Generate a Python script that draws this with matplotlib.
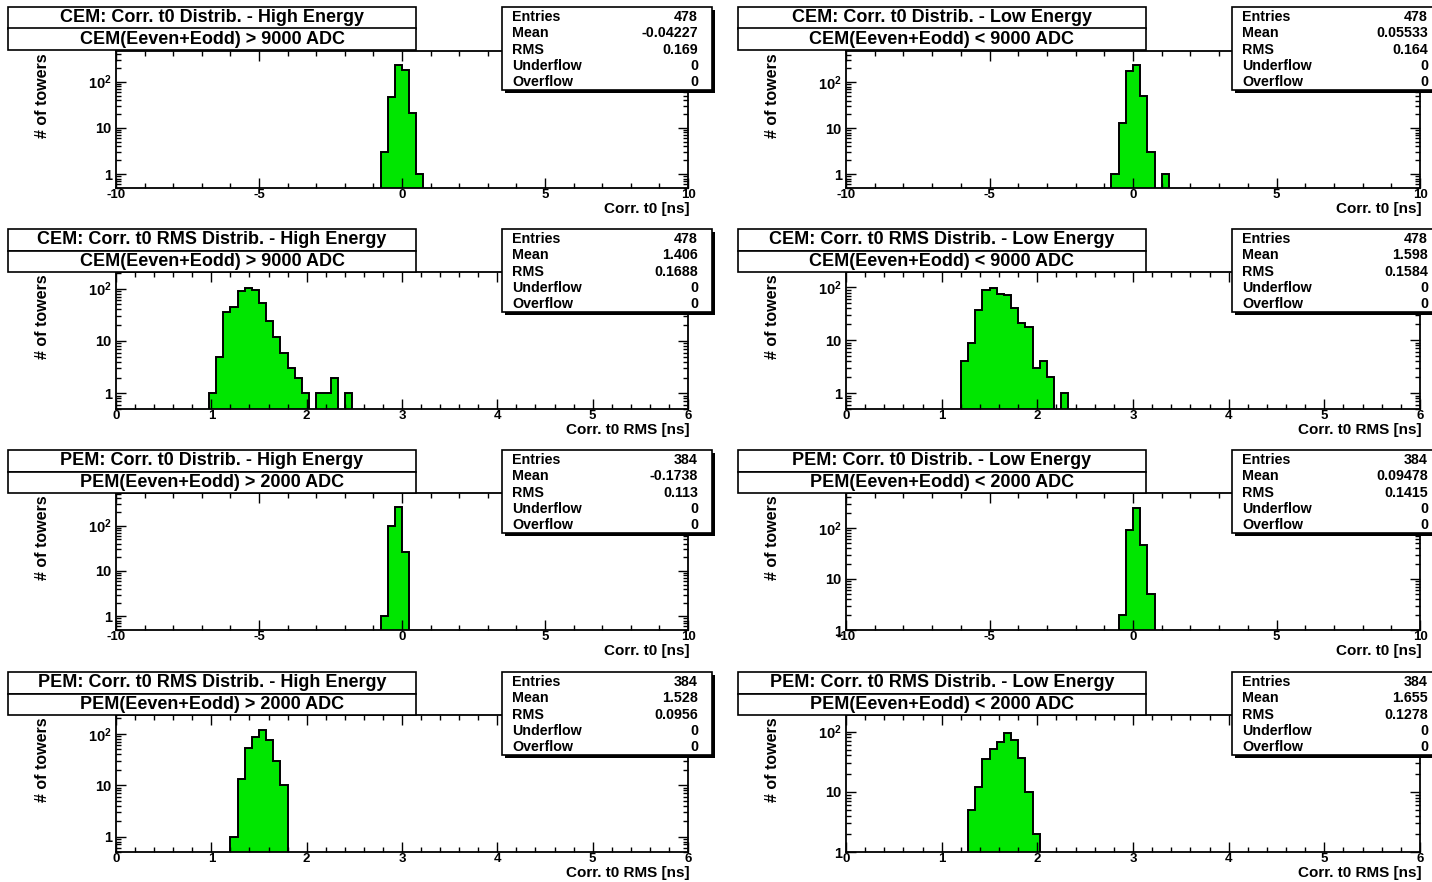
import numpy as np
import matplotlib
matplotlib.use('Agg')
import matplotlib.pyplot as plt
from matplotlib.patches import Rectangle
from matplotlib.ticker import FixedLocator, FuncFormatter, LogLocator, MultipleLocator, NullFormatter

W, H = 1432, 882

# histogram bin widths
t0_bw = 0.25
rms_bw = 0.075

# counts per panel: low edge of the first filled bin, then the counts
cem_t0_hi_lo = -0.75
cem_t0_hi = [3, 47, 230, 176, 21, 1]
cem_t0_lo_lo = -0.75
cem_t0_lo = [1, 13, 172, 239, 49, 3, 0, 1]
cem_rms_hi_lo = 0.975
cem_rms_hi = [1, 5, 36, 44, 92, 104, 94, 52, 24, 12, 6, 3, 2, 1, 0, 1, 1, 2, 0, 1]
cem_rms_lo_lo = 1.2
cem_rms_lo = [4, 9, 38, 90, 98, 76, 73, 41, 21, 18, 3, 4, 2, 0, 1]
pem_t0_hi_lo = -0.75
pem_t0_hi = [1, 97, 260, 26]
pem_t0_lo_lo = -0.5
pem_t0_lo = [2, 90, 241, 46, 5]
pem_rms_hi_lo = 1.2
pem_rms_hi = [1, 13, 52, 85, 116, 77, 30, 10]
pem_rms_lo_lo = 1.275
pem_rms_lo = [5, 12, 35, 52, 67, 94, 71, 36, 10, 2]

titles = ["CEM: Corr. t0 Distrib. - High Energy", "CEM: Corr. t0 Distrib. - Low Energy",
          "CEM: Corr. t0 RMS Distrib. - High Energy", "CEM: Corr. t0 RMS Distrib. - Low Energy",
          "PEM: Corr. t0 Distrib. - High Energy", "PEM: Corr. t0 Distrib. - Low Energy",
          "PEM: Corr. t0 RMS Distrib. - High Energy", "PEM: Corr. t0 RMS Distrib. - Low Energy"]
subtitles = ["CEM(Eeven+Eodd) > 9000 ADC", "CEM(Eeven+Eodd) < 9000 ADC"] * 2 + \
            ["PEM(Eeven+Eodd) > 2000 ADC", "PEM(Eeven+Eodd) < 2000 ADC"] * 2
xtitles = ["Corr. t0 [ns]"] * 2 + ["Corr. t0 RMS [ns]"] * 2 + ["Corr. t0 [ns]"] * 2 + ["Corr. t0 RMS [ns]"] * 2

stat_names = ["Entries", "Mean", "RMS", "Underflow", "Overflow"]
entries = ["478", "478", "478", "478", "384", "384", "384", "384"]
means = ["-0.04227", "0.05533", "1.406", "1.598", "-0.1738", "0.09478", "1.528", "1.655"]
rmss = ["0.169", "0.164", "0.1688", "0.1584", "0.113", "0.1415", "0.0956", "0.1278"]

hists = [(cem_t0_hi_lo, cem_t0_hi, t0_bw), (cem_t0_lo_lo, cem_t0_lo, t0_bw),
         (cem_rms_hi_lo, cem_rms_hi, rms_bw), (cem_rms_lo_lo, cem_rms_lo, rms_bw),
         (pem_t0_hi_lo, pem_t0_hi, t0_bw), (pem_t0_lo_lo, pem_t0_lo, t0_bw),
         (pem_rms_hi_lo, pem_rms_hi, rms_bw), (pem_rms_lo_lo, pem_rms_lo, rms_bw)]

plt.rcParams['font.family'] = ['Liberation Sans', 'DejaVu Sans']
plt.rcParams['font.weight'] = 'bold'
plt.rcParams['mathtext.fontset'] = 'custom'
plt.rcParams['mathtext.rm'] = 'Liberation Sans:bold'
plt.rcParams['mathtext.bf'] = 'Liberation Sans:bold'

# layout in pixels
frame_x = [116, 846]
frame_w = [572, 574]
frame_y = [51, 272, 493, 715]
frame_h = 137
box_x = [8, 738]
box_w = 408
box_y = [7, 229, 450, 672]
box_h = 21.5
stat_x = [502, 1232]
stat_w = 210
stat_h = 83

fig = plt.figure(figsize=(W / 100, H / 100), dpi=100)


def frac(x, y, w, h):
    return [x / W, 1 - (y + h) / H, w / W, h / H]


def rect(x, y, w, h, **kw):
    l, b, ww, hh = frac(x, y, w, h)
    fig.add_artist(Rectangle((l, b), ww, hh, transform=fig.transFigure, **kw))


def ylab(v, pos):
    if v == 1:
        return "1"
    if v == 10:
        return "10"
    if v == 100:
        return r"$\mathbf{10^{2}}$"
    return ""


green = '#00e600'

for i in range(8):
    r, c = divmod(i, 2)
    lo, counts, bw = hists[i]
    counts = np.array(counts, dtype=float)
    edges = lo + bw * np.arange(len(counts) + 1)
    ymin = 0.5 * counts[counts > 0].min()
    ymax = 2 * counts.max()

    ax = fig.add_axes(frac(frame_x[c], frame_y[r], frame_w[c], frame_h))
    draw = np.where(counts > 0, counts, 1e-3)
    ax.stairs(draw, edges, baseline=1e-3, fill=True, color=green)
    ax.stairs(draw, edges, baseline=1e-3, color='black', lw=1.4)
    ax.set_yscale('log')
    ax.set_ylim(ymin, ymax)

    if bw == t0_bw:
        ax.set_xlim(-10, 10)
        ax.xaxis.set_major_locator(MultipleLocator(5))
        ax.xaxis.set_minor_locator(MultipleLocator(1))
    else:
        ax.set_xlim(0, 6)
        ax.xaxis.set_major_locator(MultipleLocator(1))
        ax.xaxis.set_minor_locator(MultipleLocator(0.2))
    ax.xaxis.set_major_formatter(FuncFormatter(lambda v, p: "%d" % round(v)))

    ax.yaxis.set_major_locator(FixedLocator([1, 10, 100]))
    ax.yaxis.set_minor_locator(LogLocator(base=10, subs=np.arange(2, 10)))
    ax.yaxis.set_major_formatter(FuncFormatter(ylab))
    ax.yaxis.set_minor_formatter(NullFormatter())

    ax.tick_params(which='both', direction='in', top=True, right=True, width=1, labelsize=9.5)
    ax.tick_params(which='major', length=7)
    ax.tick_params(which='minor', length=3.5)
    ax.tick_params(axis='x', pad=1)
    ax.tick_params(axis='y', pad=3, labelsize=10.5)
    for s in ax.spines.values():
        s.set_linewidth(1.3)

    ax.set_ylabel("# of towers", loc='top', fontsize=11.5, fontweight='bold')
    ax.yaxis.set_label_coords(-0.115, 0.98)
    ax.set_xlabel(xtitles[i], loc='right', fontsize=11, fontweight='bold')
    ax.xaxis.set_label_coords(1.003, -0.105)

    # title boxes
    bx, by = box_x[c], box_y[r]
    rect(bx, by, box_w, box_h, fc='white', ec='black', lw=1.2, zorder=2)
    rect(bx, by + box_h, box_w, box_h, fc='white', ec='black', lw=1.2, zorder=2)
    fig.text((bx + box_w / 2) / W, 1 - (by + box_h / 2) / H, titles[i],
             ha='center', va='center', fontsize=13, fontweight='bold', zorder=3)
    fig.text((bx + box_w / 2) / W, 1 - (by + 1.5 * box_h) / H, subtitles[i],
             ha='center', va='center', fontsize=13, fontweight='bold', zorder=3)

    # stats box with shadow
    sx, sy = stat_x[c], box_y[r]
    rect(sx + 3, sy + 3, stat_w, stat_h, fc='black', ec='black', lw=0, zorder=2)
    rect(sx, sy, stat_w, stat_h, fc='white', ec='black', lw=1.2, zorder=2)
    vals = [entries[i], means[i], rmss[i], "0", "0"]
    for k, name in enumerate(stat_names):
        ty = sy + 10 + k * 16.3
        fig.text((sx + 10) / W, 1 - ty / H, name, ha='left', va='center',
                 fontsize=10.3, fontweight='bold', zorder=3)
        fig.text((sx + 196) / W, 1 - ty / H, vals[k], ha='right', va='center',
                 fontsize=10.3, fontweight='bold', zorder=3)

fig.savefig('out.png', dpi=100, facecolor='white')
